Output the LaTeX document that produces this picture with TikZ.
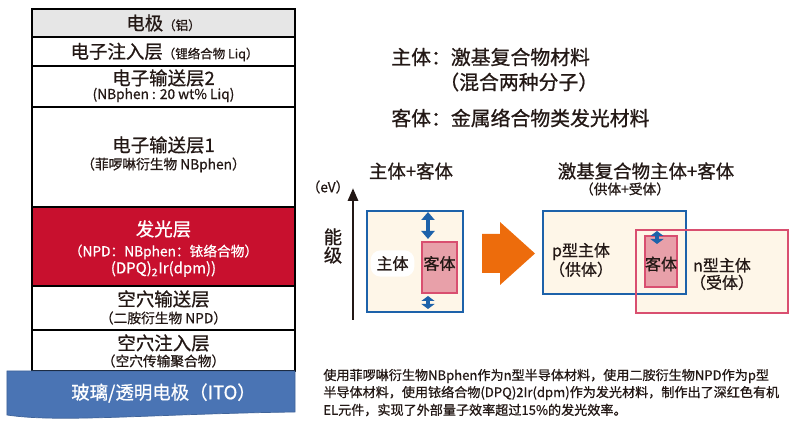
\documentclass[tikz,border=0pt]{standalone}
\usepackage{fontspec}
\setmainfont{Noto Sans CJK SC}[FakeBold=0.8]
\usetikzlibrary{arrows.meta}

\definecolor{txtdark}{HTML}{231815}
\definecolor{emlred}{HTML}{C8102E}
\definecolor{itoblue}{HTML}{4A74B4}
\definecolor{elecgray}{HTML}{E6E6E6}
\definecolor{hostblue}{HTML}{1D62AA}
\definecolor{guestpink}{HTML}{D94F70}
\definecolor{guestfill}{HTML}{E8A0A9}
\definecolor{cream}{HTML}{FEF6E8}
\definecolor{arroworange}{HTML}{ED6C0C}

\tikzset{
  layer/.style={draw=black, line width=0.6pt},
  mainlbl/.style={font=\fontsize{10.5}{12}\selectfont},
  sublbl/.style={font=\fontsize{7.8}{9}\selectfont},
  bigtxt/.style={font=\fontsize{11.3}{13}\selectfont, inner sep=0pt},
  hostbox/.style={draw=hostblue, line width=1.2pt},
  nbox/.style={draw=guestpink, line width=1.2pt},
  guestbox/.style={draw=guestpink, fill=guestfill, line width=1.2pt},
  boxlbl/.style={font=\fontsize{9.1}{9.8}\selectfont, align=center},
  dblarrow/.style={{Triangle[width=0.26cm,length=#1]}-{Triangle[width=0.26cm,length=#1]},
                   draw=hostblue, line width=0.08cm},
  dblarrow/.default=0.16cm
}

\begin{document}
\begin{tikzpicture}[text=txtdark]
\useasboundingbox (0,0) rectangle (15.92,8.58);

% ── LEFT: layer stack ───────────────────────────────────────

% layer fills and lines
\fill[elecgray] (0.64,7.84) rectangle (5.90,8.40);
\fill[emlred]   (0.64,2.86) rectangle (5.90,4.44);
\draw[layer] (0.64,1.16) rectangle (5.90,8.40);
\foreach \ypos in {7.84, 7.26, 6.44, 4.44, 2.86, 1.98} {
    \draw[layer] (0.64,\ypos) -- (5.90,\ypos);
}

% glass / ITO with wavy bottom
\fill[itoblue, draw=itoblue!85!black, line width=0.4pt]
  (0.14,1.16) -- (5.90,1.16) -- (5.90,0.34)
  .. controls (3.0,0.30) and (1.2,0.12) .. (0.14,0.28) -- cycle;

% layer labels
\node[mainlbl] (elecLbl) at (3.27,8.12) {电极{\fontsize{7.1}{8}\selectfont （铝）}};
\node[mainlbl] (eilLbl)  at (3.29,7.54) {电子注入层{\fontsize{7.1}{8}\selectfont （锂络合物 Liq）}};
\node[mainlbl] (etlTwo)  at (3.27,7.02) {电子输送层2};
\node[sublbl]  (etlTwoSub) at (3.27,6.68) {(NBphen : 20 wt\% Liq)};
\node[mainlbl] (etlOne)  at (3.27,5.68) {电子输送层1};
\node[sublbl]  (etlOneSub) at (3.27,5.28) {（菲啰啉衍生物 NBphen）};
\node[mainlbl, text=white] (emlLbl) at (3.27,4.00) {发光层};
\node[sublbl, text=white]  (emlSubA) at (3.27,3.54) {（NPD：NBphen：铱络合物）};
\node[font=\fontsize{8.5}{10}\selectfont, text=white] (emlSubB) at (3.27,3.20) {(DPQ)\textsubscript{2}Ir(dpm))};
\node[mainlbl] (htlLbl)  at (3.27,2.60) {空穴输送层};
\node[sublbl]  (htlSub)  at (3.27,2.22) {（二胺衍生物 NPD）};
\node[mainlbl] (hilLbl)  at (3.27,1.72) {空穴注入层};
\node[sublbl]  (hilSub)  at (3.27,1.36) {（空穴传输聚合物）};
\node[mainlbl, text=white] (itoLbl) at (3.27,0.72) {玻璃/透明电极（ITO）};

% ── RIGHT TOP: definitions ──────────────────────────────────

\node[bigtxt, anchor=west] (hostDef)  at (7.82,7.44) {主体：激基复合物材料};
\node[bigtxt, anchor=west] (hostNote) at (8.78,6.94) {（混合两种分子）};
\node[bigtxt, anchor=west] (guestDef) at (7.82,6.22) {客体：金属络合物类发光材料};

% ── RIGHT MIDDLE: host+guest vs exciplex host+guest ─────────

% energy axis
\coordinate (energyBot) at (7.06,2.18);
\coordinate (energyTop) at (7.06,4.82);
\draw[txtdark, line width=1.7pt, -{Triangle[width=0.2cm,length=0.26cm]}] (energyBot) -- (energyTop);
\node[sublbl] (evLbl) at (6.56,4.84) {（eV）};
\node[font=\fontsize{10.4}{10.4}\selectfont, align=center] (levelLbl) at (6.66,3.66) {能\\级};

% titles
\node[mainlbl] (leftTitle)  at (8.22,5.16) {主体+客体};
\node[mainlbl] (rightTitle) at (12.92,5.16) {激基复合物主体+客体};
\node[sublbl]  (rightSub)   at (12.50,4.80) {（供体+受体）};

% left: host box with guest
\fill[cream] (7.34,2.34) rectangle (9.26,4.36);
\draw[hostbox] (7.34,2.34) rectangle (9.26,4.36);
\draw[guestbox] (8.44,2.72) rectangle (9.14,3.74);
\node[boxlbl, fill=white, rounded corners=0.2cm, minimum width=0.82cm, minimum height=0.46cm]
  (hostLbl) at (7.85,3.31) {主体};
\node[boxlbl] (guestLbl) at (8.79,3.31) {客体};
\coordinate (gapTopA) at (8.56,4.34);
\coordinate (gapTopB) at (8.56,3.80);
\coordinate (gapBotA) at (8.56,2.66);
\coordinate (gapBotB) at (8.56,2.40);
\draw[dblarrow] (gapTopA) -- (gapTopB);
\draw[dblarrow=0.10cm] (gapBotA) -- (gapBotB);

% big orange arrow
\fill[arroworange] (9.64,3.90) -- (10.00,3.90) -- (10.00,4.14) -- (10.70,3.51)
  -- (10.00,2.88) -- (10.00,3.12) -- (9.64,3.12) -- cycle;

% right: p-type host, n-type host, guest
\fill[cream] (10.86,2.70) rectangle (13.72,4.36);
\fill[cream] (12.72,2.32) rectangle (15.76,3.98);
\draw[hostbox] (10.86,2.70) rectangle (13.72,4.36);
\draw[nbox]    (12.72,2.32) rectangle (15.76,3.98);
\draw[guestbox] (12.90,2.84) rectangle (13.54,3.86);
\coordinate (gapRightA) at (13.14,3.96);
\coordinate (gapRightB) at (13.14,3.70);
\draw[dblarrow=0.10cm] (gapRightA) -- (gapRightB);
\node[boxlbl] (pHostLbl)  at (11.62,3.38) {p型主体\\（供体）};
\node[boxlbl] (guestLblB) at (13.22,3.30) {客体};
\node[boxlbl] (nHostLbl)  at (14.44,3.10) {n型主体\\（受体）};

% ── RIGHT BOTTOM: note ──────────────────────────────────────

\foreach \ypos/\txt [count=\i] in {
    1.06/{使用菲啰啉衍生物NBphen作为n型半导体材料，使用二胺衍生物NPD作为p型},
    0.72/{半导体材料，使用铱络合物(DPQ)2Ir(dpm)作为发光材料，制作出了深红色有机},
    0.38/{EL元件，实现了外部量子效率超过15\%的发光效率。}} {
    \node[anchor=west, inner sep=0pt, font=\fontsize{7.45}{9}\selectfont] (note\i) at (6.46,\ypos) {\txt};
}

\end{tikzpicture}
\end{document}
